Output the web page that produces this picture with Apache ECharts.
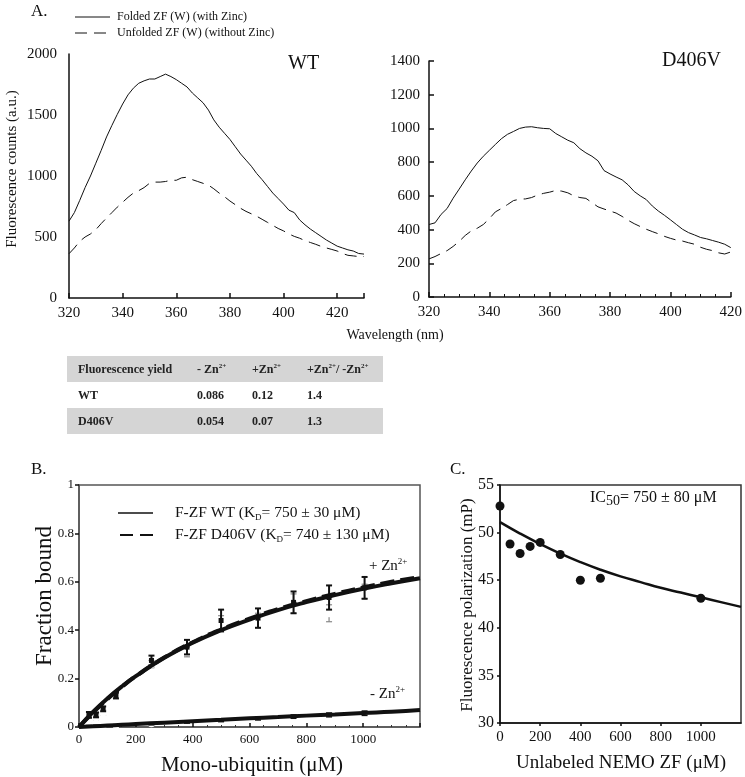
<!DOCTYPE html>
<html>
<head>
<meta charset="utf-8">
<script src="https://cdn.jsdelivr.net/npm/echarts@6/dist/echarts.min.js"></script>
<style>
html, body { margin: 0; background: #fff; }
#chart { width: 745px; height: 777px; }
</style>
</head>
<body>
<div id="chart"></div>
<script>
// ---- Panel A: emission spectra ----
const wtWave = [320,322,324,326,328,330,332,334,336,338,340,342,344,346,348,350,352,354,356,358,360,362,364,366,368,370,372,374,376,378,380,382,384,386,388,390,392,394,396,398,400,402,404,406,408,410,412,414,416,418,420,422,424,426,428,430];
const wtFolded = [630,700,800,905,1000,1105,1210,1320,1415,1505,1590,1665,1720,1760,1780,1795,1795,1815,1835,1815,1790,1760,1730,1680,1640,1600,1540,1460,1400,1350,1300,1240,1180,1130,1080,1020,970,915,860,815,770,720,700,640,600,565,535,505,475,450,425,410,395,385,365,360];
const wtUnfolded = [363,410,465,500,525,560,610,656,700,745,785,825,860,880,905,940,950,950,955,965,965,985,990,970,955,940,925,895,860,830,795,765,735,710,690,670,645,620,595,570,550,525,505,490,470,455,440,423,410,398,385,365,350,345,340,340];

const mutWave = [320,322,324,326,328,330,332,334,336,338,340,342,344,346,348,350,352,354,356,358,360,362,364,366,368,370,372,374,376,378,380,382,384,386,388,390,392,394,396,398,400,402,404,406,408,410,412,414,416,418,420];
const mutFolded = [430,440,490,525,586,640,695,747,795,835,870,905,939,965,982,1000,1008,1010,1004,1000,998,970,950,930,915,880,855,835,808,750,730,712,695,665,626,600,578,540,510,485,458,430,402,382,368,353,345,335,325,313,293];
const mutUnfolded = [226,240,258,275,300,330,365,392,408,430,465,505,525,548,572,580,582,590,605,615,622,632,628,618,600,590,585,560,535,522,510,498,478,455,435,418,402,388,375,360,348,338,332,322,313,295,283,275,262,255,267];

// ---- Fluorescence yield table ----
const tableHeader = ['Fluorescence yield', '- Zn{sup|2+}', '+Zn{sup|2+}', '+Zn{sup|2+}/ -Zn{sup|2+}'];
const tableRows = [
  ['WT', '0.086', '0.12', '1.4'],
  ['D406V', '0.054', '0.07', '1.3']
];

// ---- Panel B: mono-ubiquitin binding ----
const ubConc = [35, 60, 85, 130, 255, 380, 500, 630, 755, 880, 1005];
const wtPlusMean = [0.05, 0.05, 0.075, 0.13, 0.275, 0.33, 0.44, 0.45, 0.515, 0.535, 0.575];
const wtPlusErr = [0.012, 0.01, 0.01, 0.012, 0.02, 0.03, 0.045, 0.04, 0.045, 0.05, 0.045];
const mutPlusMean = [0.03, 0.04, 0.06, 0.12, 0.26, 0.31, 0.43, 0.44, 0.51, 0.47, 0.56];
const mutPlusErr = [0.01, 0.01, 0.01, 0.01, 0.015, 0.02, 0.03, 0.03, 0.04, 0.035, 0.03];
const wtMinusMean = [0.003, 0.004, 0.005, 0.007, 0.013, 0.02, 0.027, 0.035, 0.043, 0.05, 0.057];
const wtMinusErr = [0.003, 0.003, 0.003, 0.003, 0.004, 0.004, 0.005, 0.006, 0.007, 0.008, 0.009];

const fitConc = [0, 50, 100, 150, 200, 300, 400, 500, 600, 700, 800, 900, 1000, 1100, 1200];
const wtPlusFit = [0, 0.063, 0.118, 0.167, 0.21, 0.286, 0.348, 0.4, 0.444, 0.483, 0.516, 0.545, 0.571, 0.594, 0.615];
const mutPlusFit = [0, 0.06, 0.115, 0.165, 0.21, 0.287, 0.35, 0.403, 0.448, 0.487, 0.52, 0.55, 0.577, 0.6, 0.62];
const minusFit = [0, 0.003, 0.006, 0.009, 0.012, 0.018, 0.024, 0.03, 0.036, 0.041, 0.047, 0.052, 0.058, 0.063, 0.07];

// ---- Panel C: competition ----
const nemoConc = [0, 50, 100, 150, 200, 300, 400, 500, 1000];
const polarization = [52.8, 48.8, 47.8, 48.55, 48.97, 47.7, 45.0, 45.2, 43.1];
const compFitConc = [0, 100, 200, 300, 400, 500, 600, 700, 800, 900, 1000, 1100, 1200];
const compFit = [51.1, 49.9, 48.8, 47.8, 46.9, 46.1, 45.4, 44.8, 44.2, 43.7, 43.2, 42.7, 42.2];

const FONT = 'Liberation Serif';
const pairs = (xs, ys) => xs.map((x, i) => [x, ys[i]]);
const bars = (xs, m, e) => xs.map((x, i) => [x, m[i] - e[i], m[i] + e[i]]);

function errorBars(color, width) {
    return function (params, api) {
        const x = api.value(0);
        const top = api.coord([x, api.value(2)]);
        const bot = api.coord([x, api.value(1)]);
        const st = { stroke: color, lineWidth: width };
        return {
            type: 'group',
            children: [
                { type: 'line', shape: { x1: top[0], y1: top[1], x2: bot[0], y2: bot[1] }, style: st },
                { type: 'line', shape: { x1: top[0] - 3, y1: top[1], x2: top[0] + 3, y2: top[1] }, style: st },
                { type: 'line', shape: { x1: bot[0] - 3, y1: bot[1], x2: bot[0] + 3, y2: bot[1] }, style: st }
            ]
        };
    };
}

function valueAxis(grid, min, max, interval, extra) {
    const ax = {
        gridIndex: grid, type: 'value', min: min, max: max, interval: interval,
        axisLine: { show: true, lineStyle: { color: '#111', width: 1.5 } },
        axisTick: { show: true, inside: true, length: 5, lineStyle: { color: '#111', width: 1.5 } },
        axisLabel: { fontFamily: FONT, fontSize: 15, color: '#111', margin: 8, formatter: v => String(v) },
        splitLine: { show: false }
    };
    return echarts.util.merge(ax, extra || {}, true);
}

function txt(x, y, text, size, opts) {
    return Object.assign({
        type: 'text', x: x, y: y, silent: true,
        style: Object.assign({
            text: text, fontFamily: FONT, fontSize: size, fill: '#111',
            align: 'left', verticalAlign: 'middle'
        }, (opts && opts.style) || {})
    }, (opts && opts.el) || {});
}

function hline(x1, x2, y, width, dash) {
    return {
        type: 'line', silent: true,
        shape: { x1: x1, y1: y, x2: x2, y2: y },
        style: { stroke: '#111', lineWidth: width, lineDash: dash || null }
    };
}

// table graphic
const tableLeft = 67, tableRight = 383, rowH = 26, tableTop = 356;
const colX = [78, 197, 252, 307];
const rich = {
    n: { fontFamily: FONT, fontSize: 12, fontWeight: 'bold', fill: '#222', lineHeight: 14 },
    sup: { fontFamily: FONT, fontSize: 7, fontWeight: 'bold', fill: '#222', lineHeight: 8, verticalAlign: 'top' }
};
const tableEls = [];
[tableHeader].concat(tableRows).forEach((row, r) => {
    const y = tableTop + r * rowH;
    if (r !== 1) {
        tableEls.push({ type: 'rect', silent: true, shape: { x: tableLeft, y: y, width: tableRight - tableLeft, height: rowH }, style: { fill: '#d5d5d5' } });
    }
    row.forEach((cell, c) => {
        const s = cell.split(/(\{sup\|[^}]*\})/).filter(Boolean)
            .map(p => p.startsWith('{sup|') ? p : '{n|' + p + '}').join('');
        tableEls.push({
            type: 'text', silent: true, x: colX[c], y: y + rowH / 2 + 1,
            style: { text: s, rich: rich, align: 'left', verticalAlign: 'middle' }
        });
    });
});

const legendRich = {
    a: { fontFamily: FONT, fontSize: 15.5, fill: '#111', lineHeight: 18 },
    s: { fontFamily: FONT, fontSize: 9, fill: '#111', lineHeight: 9, verticalAlign: 'bottom' }
};
const znRich = {
    a: { fontFamily: FONT, fontSize: 15, fill: '#111', lineHeight: 18 },
    p: { fontFamily: FONT, fontSize: 9, fill: '#111', lineHeight: 9, verticalAlign: 'top' }
};

const chart = echarts.init(document.getElementById('chart'));

const option = {
    animation: false,
    backgroundColor: '#fff',
    grid: [
        { left: 69, top: 54, width: 295, height: 244 },
        { left: 429, top: 61, width: 304, height: 236 },
        { left: 79, top: 485, width: 341, height: 242, show: true, borderColor: '#555', borderWidth: 1.5 },
        { left: 500, top: 485, width: 241, height: 238, show: true, borderColor: '#333', borderWidth: 1.5 }
    ],
    xAxis: [
        valueAxis(0, 320, 430, 20, { axisLabel: { formatter: v => (v > 420 ? '' : String(v)) } }),
        valueAxis(1, 320, 420, 20, { minorTick: { show: true, splitNumber: 4, length: 3, lineStyle: { color: '#111' } } }),
        valueAxis(2, 0, 1200, 200, {
            axisLine: { lineStyle: { color: '#555' } },
            axisLabel: { fontSize: 13, showMaxLabel: false, margin: 6 },
            axisTick: { length: 4 },
            minorTick: { show: true, splitNumber: 4, length: 2, lineStyle: { color: '#333' } }
        }),
        valueAxis(3, 0, 1200, 200, {
            axisLabel: { fontSize: 15, showMaxLabel: false, margin: 7 },
            axisTick: { inside: false, length: 3 }
        })
    ],
    yAxis: [
        valueAxis(0, 0, 2000, 500, { axisTick: { show: false }, axisLabel: { margin: 12 } }),
        valueAxis(1, 0, 1400, 200, { axisLabel: { margin: 9 } }),
        valueAxis(2, 0, 1, 0.2, {
            axisLine: { lineStyle: { color: '#555' } },
            axisLabel: { fontSize: 13, margin: 5 },
            axisTick: { inside: false, length: 4 }
        }),
        valueAxis(3, 30, 55, 5, {
            axisLabel: { fontSize: 16, margin: 6 },
            axisTick: { inside: false, length: 3 }
        })
    ],
    series: [
        // Panel A
        { type: 'line', xAxisIndex: 0, yAxisIndex: 0, data: pairs(wtWave, wtFolded), showSymbol: false,
          lineStyle: { color: '#111', width: 1 } },
        { type: 'line', xAxisIndex: 0, yAxisIndex: 0, data: pairs(wtWave, wtUnfolded), showSymbol: false,
          lineStyle: { color: '#111', width: 1, type: [12, 7] } },
        { type: 'line', xAxisIndex: 1, yAxisIndex: 1, data: pairs(mutWave, mutFolded), showSymbol: false,
          lineStyle: { color: '#111', width: 1 } },
        { type: 'line', xAxisIndex: 1, yAxisIndex: 1, data: pairs(mutWave, mutUnfolded), showSymbol: false,
          lineStyle: { color: '#111', width: 1, type: [12, 7] } },

        // Panel B
        { type: 'custom', xAxisIndex: 2, yAxisIndex: 2, data: bars(ubConc, mutPlusMean, mutPlusErr),
          renderItem: errorBars('#888', 1.2), encode: { x: 0, y: [1, 2] }, z: 2 },
        { type: 'scatter', xAxisIndex: 2, yAxisIndex: 2, data: pairs(ubConc, mutPlusMean), symbol: 'emptyCircle',
          symbolSize: 6, itemStyle: { color: '#fff', borderColor: '#999', borderWidth: 1, opacity: 1 }, z: 2 },
        { type: 'line', xAxisIndex: 2, yAxisIndex: 2, data: pairs(fitConc, mutPlusFit), showSymbol: false, smooth: true,
          lineStyle: { color: '#111', width: 4, type: [14, 6] }, z: 3 },
        { type: 'line', xAxisIndex: 2, yAxisIndex: 2, data: pairs(fitConc, wtPlusFit), showSymbol: false, smooth: true,
          lineStyle: { color: '#111', width: 4 }, z: 3 },
        { type: 'line', xAxisIndex: 2, yAxisIndex: 2, data: pairs(fitConc, minusFit), showSymbol: false, smooth: true,
          lineStyle: { color: '#111', width: 4 }, z: 3 },
        { type: 'custom', xAxisIndex: 2, yAxisIndex: 2, data: bars(ubConc, wtPlusMean, wtPlusErr),
          renderItem: errorBars('#111', 2), encode: { x: 0, y: [1, 2] }, z: 4 },
        { type: 'scatter', xAxisIndex: 2, yAxisIndex: 2, data: pairs(ubConc, wtPlusMean), symbol: 'rect',
          symbolSize: 5, itemStyle: { color: '#111', opacity: 1 }, z: 4 },
        { type: 'custom', xAxisIndex: 2, yAxisIndex: 2, data: bars(ubConc, wtMinusMean, wtMinusErr),
          renderItem: errorBars('#111', 1.5), encode: { x: 0, y: [1, 2] }, z: 4 },
        { type: 'scatter', xAxisIndex: 2, yAxisIndex: 2, data: pairs(ubConc, wtMinusMean), symbol: 'emptyCircle',
          symbolSize: 5, itemStyle: { color: '#fff', borderColor: '#888', borderWidth: 1, opacity: 1 }, z: 2 },

        // Panel C
        { type: 'line', xAxisIndex: 3, yAxisIndex: 3, data: pairs(compFitConc, compFit), showSymbol: false, smooth: true,
          lineStyle: { color: '#111', width: 2.5 } },
        { type: 'scatter', xAxisIndex: 3, yAxisIndex: 3, data: pairs(nemoConc, polarization), symbol: 'circle',
          symbolSize: 9, itemStyle: { color: '#111', opacity: 1 }, z: 4 }
    ],
    graphic: [
        // Panel A
        txt(31, 12, 'A.', 17),
        hline(75, 110, 17, 1),
        hline(75, 110, 33, 1, [12, 7]),
        txt(117, 17, 'Folded ZF (W) (with Zinc)', 12),
        txt(117, 33, 'Unfolded ZF (W) (without Zinc)', 12),
        txt(288, 64, 'WT', 20),
        txt(662, 61, 'D406V', 20),
        txt(12, 169, 'Fluorescence counts (a.u.)', 15, { style: { align: 'center' }, el: { rotation: Math.PI / 2 } }),
        txt(395, 335, 'Wavelength (nm)', 14, { style: { align: 'center' } }),
        ...tableEls,

        // Panel B
        txt(31, 470, 'B.', 17),
        hline(118, 153, 513, 1.5),
        hline(120, 157, 535, 2, [13, 7]),
        { type: 'text', silent: true, x: 175, y: 513,
          style: { text: '{a|F-ZF WT (K}{s|D}{a|= 750 ± 30 μM)}', rich: legendRich, verticalAlign: 'middle' } },
        { type: 'text', silent: true, x: 175, y: 535,
          style: { text: '{a|F-ZF D406V (K}{s|D}{a|= 740 ± 130 μM)}', rich: legendRich, verticalAlign: 'middle' } },
        { type: 'text', silent: true, x: 369, y: 566,
          style: { text: '{a|+ Zn}{p|2+}', rich: znRich, verticalAlign: 'middle' } },
        { type: 'text', silent: true, x: 370, y: 694,
          style: { text: '{a|- Zn}{p|2+}', rich: znRich, verticalAlign: 'middle' } },
        txt(45, 596, 'Fraction bound', 23, { style: { align: 'center' }, el: { rotation: Math.PI / 2 } }),
        txt(252, 765, 'Mono-ubiquitin (μM)', 21, { style: { align: 'center' } }),

        // Panel C
        txt(450, 470, 'C.', 17),
        { type: 'text', silent: true, x: 590, y: 498,
          style: { text: '{a|IC}{s|50}{a|= 750 ± 80 μM}', verticalAlign: 'middle',
                   rich: {
                       a: { fontFamily: FONT, fontSize: 16, fill: '#111', lineHeight: 20 },
                       s: { fontFamily: FONT, fontSize: 14, fill: '#111', lineHeight: 14, verticalAlign: 'bottom' }
                   } } },
        txt(468, 605, 'Fluorescence polarization (mP)', 17, { style: { align: 'center' }, el: { rotation: Math.PI / 2 } }),
        txt(621, 763, 'Unlabeled NEMO ZF (μM)', 19, { style: { align: 'center' } })
    ]
};

chart.setOption(option);

window.onresize = function () {
    chart.resize();
};
</script>
</body>
</html>
